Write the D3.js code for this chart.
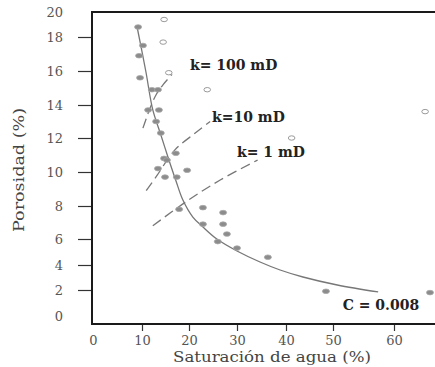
<!DOCTYPE html>
<html>
<head>
<meta charset="utf-8">
<script src="https://cdn.jsdelivr.net/npm/d3@7"></script>
<style>
  body { margin: 0; background: #fff; }
  svg { display: block; }
</style>
</head>
<body>
<script>
// Tick values of both axes (the scan has uneven spacing between them)
const satTicks = [0, 10, 20, 30, 40, 50, 60];
const porTicks = [0, 2, 4, 6, 8, 10, 12, 14, 16, 18, 20];

// Measured points (Sw %, porosity %)
const filledSw  = [9.2, 10.2, 9.4, 9.6, 12.1, 13.4, 11.3, 13.6, 13.0, 14.0, 14.7, 15.3, 17.2, 13.4, 19.6, 14.9, 17.4, 17.9, 22.9, 27.1, 22.9, 27.1, 27.9, 26.0, 30.0, 36.3, 48.5, 65.9];
const filledPhi = [18.8, 17.5, 16.9, 15.6, 14.9, 14.9, 13.7, 13.7, 13.0, 12.3, 10.8, 10.7, 11.1, 10.2, 10.1, 9.7, 9.7, 7.8, 7.9, 7.6, 6.9, 6.9, 6.3, 5.8, 5.3, 4.6, 1.9, 1.8];
const hollowSw  = [14.7, 14.5, 15.7, 23.8, 41.2, 65.1];
const hollowPhi = [19.4, 17.7, 15.9, 14.9, 12.0, 13.6];

// Hyperbolic fit, C = 0.008
const fitSw  = [9.0, 10.8, 12.3, 14.0, 15.5, 17.2, 18.7, 20.8, 22.9, 25.8, 30.0, 34.7, 38.8, 43.6, 50.7, 57.4];
const fitPhi = [18.8, 16.0, 13.7, 12.2, 10.9, 9.5, 8.35, 7.33, 6.73, 6.0, 5.08, 4.23, 3.6, 3.04, 2.4, 1.85];

// Permeability lines
const k100Sw  = [10.2, 11.7, 13.0, 14.5, 16.4];
const k100Phi = [12.6, 13.8, 14.6, 15.2, 15.8];
const k10Sw   = [10.9, 13.2, 17.0, 21.3, 24.4];
const k10Phi  = [8.9, 9.8, 11.3, 12.3, 13.0];
const k1Sw    = [12.3, 19.1, 26.5, 34.2];
const k1Phi   = [6.8, 8.2, 9.53, 10.7];

const labelText = ["k= 100 mD", "k=10 mD", "k= 1 mD", "C = 0.008"];
const labelSw   = [20.2, 24.8, 30.0, 51.6];
const labelPhi  = [16.35, 13.27, 11.2, 0.85];

const width = 435, height = 367;
const plotLeft = 92, plotTop = 12, plotBottom = 324;

const svg = d3.select("body").append("svg")
    .attr("width", width)
    .attr("height", height)
    .style("background-color", "white");

// piecewise scales, pixel stops
const x = d3.scaleLinear()
    .domain(satTicks)
    .range([93, 142, 189, 237, 286, 333, 394]);
const y = d3.scaleLinear()
    .domain(porTicks)
    .range([316, 290, 265, 239, 206, 172, 138, 105, 71, 37, 12]);

// y axis
const yAxis = svg.append("g")
    .attr("transform", `translate(${plotLeft - 1},0)`)
    .call(d3.axisLeft(y).tickValues(porTicks).tickSize(13).tickPadding(15).tickFormat(d3.format("d")));
yAxis.select(".domain").remove();
yAxis.selectAll(".tick").filter(d => d === 0 || d === 20).select("line").remove();
yAxis.selectAll(".tick line").attr("stroke", "#333").attr("stroke-width", 1.2);
yAxis.selectAll(".tick text")
    .attr("fill", "#555")
    .style("font-family", "DejaVu Serif")
    .style("font-size", "13px");

// x axis
const xAxis = svg.append("g")
    .attr("transform", `translate(0,${plotBottom})`)
    .call(d3.axisBottom(x).tickValues(satTicks).tickSize(7).tickPadding(5).tickFormat(d3.format("d")));
xAxis.select(".domain").remove();
xAxis.selectAll(".tick").filter(d => d === 0).select("line").remove();
xAxis.selectAll(".tick line").attr("stroke", "#333").attr("stroke-width", 1.2);
xAxis.selectAll(".tick text")
    .attr("fill", "#555")
    .style("font-family", "DejaVu Serif")
    .style("font-size", "13px");

// frame
svg.append("path")
    .attr("d", `M${width},${plotTop}H${plotLeft}V${plotBottom}H${width}`)
    .attr("fill", "none")
    .attr("stroke", "#1a1a1a")
    .attr("stroke-width", 2);

// axis titles
svg.append("text")
    .attr("x", 272).attr("y", 362)
    .attr("text-anchor", "middle")
    .attr("textLength", 198).attr("lengthAdjust", "spacingAndGlyphs")
    .attr("fill", "#444")
    .style("font-family", "DejaVu Serif")
    .style("font-size", "15px")
    .text("Saturación de agua (%)");
svg.append("text")
    .attr("transform", "translate(24,170) rotate(-90)")
    .attr("text-anchor", "middle")
    .attr("textLength", 124).attr("lengthAdjust", "spacingAndGlyphs")
    .attr("fill", "#444")
    .style("font-family", "DejaVu Serif")
    .style("font-size", "15px")
    .text("Porosidad (%)");

// curves
const line = d3.line().x(d => x(d[0])).y(d => y(d[1])).curve(d3.curveCatmullRom);

svg.append("path")
    .datum(d3.zip(fitSw, fitPhi))
    .attr("d", line)
    .attr("fill", "none")
    .attr("stroke", "#777")
    .attr("stroke-width", 1.3);

[[k100Sw, k100Phi], [k10Sw, k10Phi], [k1Sw, k1Phi]].forEach(([sw, phi]) => {
    svg.append("path")
        .datum(d3.zip(sw, phi))
        .attr("d", line)
        .attr("fill", "none")
        .attr("stroke", "#777")
        .attr("stroke-width", 1.3)
        .attr("stroke-dasharray", "10,5");
});

// points
svg.selectAll(".filled")
    .data(d3.zip(filledSw, filledPhi))
    .enter().append("ellipse")
    .attr("class", "filled")
    .attr("cx", d => x(d[0]))
    .attr("cy", d => y(d[1]))
    .attr("rx", 3.5).attr("ry", 2.3)
    .attr("fill", "#8c8c8c")
    .attr("stroke", "#a8a8a8")
    .attr("stroke-width", 0.8);

svg.selectAll(".hollow")
    .data(d3.zip(hollowSw, hollowPhi))
    .enter().append("ellipse")
    .attr("class", "hollow")
    .attr("cx", d => x(d[0]))
    .attr("cy", d => y(d[1]))
    .attr("rx", 3.3).attr("ry", 2.2)
    .attr("fill", "white")
    .attr("stroke", "#9a9a9a")
    .attr("stroke-width", 1);

// labels
svg.selectAll(".lbl")
    .data(d3.zip(labelText, labelSw, labelPhi))
    .enter().append("text")
    .attr("class", "lbl")
    .attr("x", d => x(d[1]))
    .attr("y", d => y(d[2]))
    .attr("dy", "0.35em")
    .attr("fill", "#222")
    .style("font-family", "DejaVu Serif")
    .style("font-weight", "bold")
    .style("font-size", "14px")
    .text(d => d[0]);
</script>
</body>
</html>
